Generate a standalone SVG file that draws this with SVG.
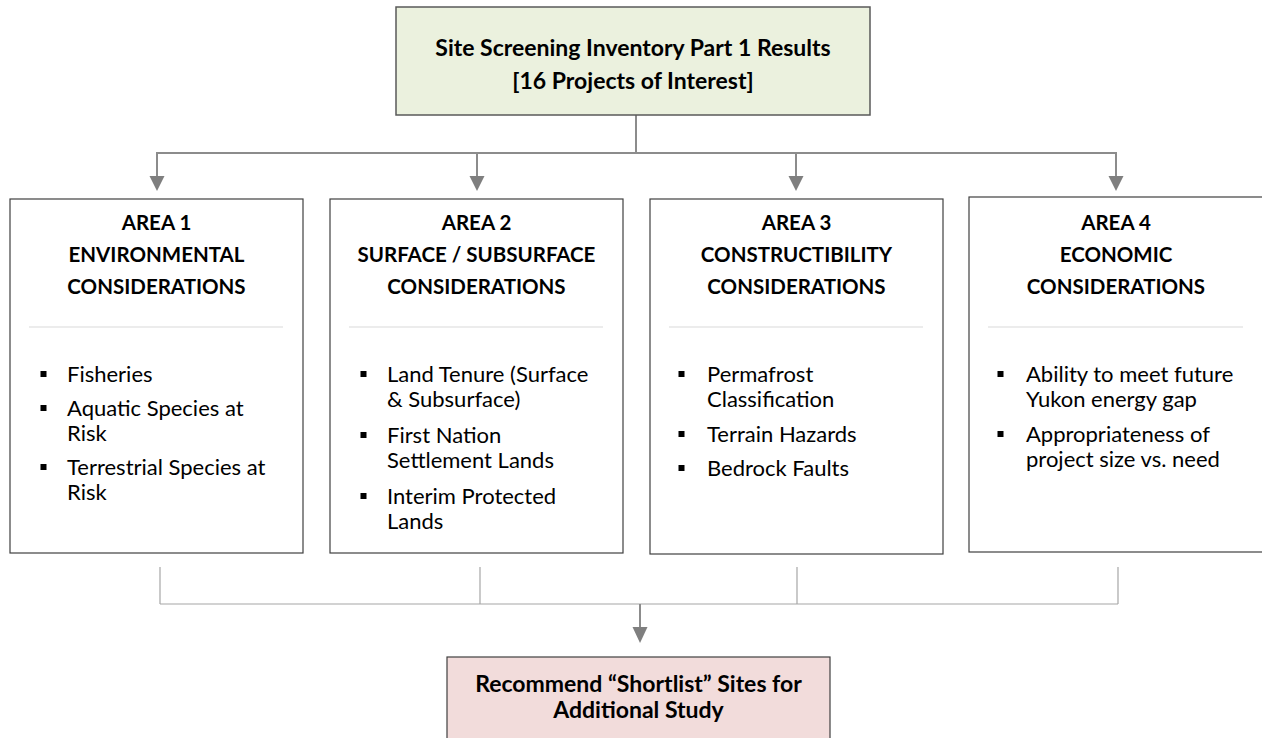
<svg xmlns="http://www.w3.org/2000/svg" width="1262" height="738" viewBox="0 0 1262 738">
<style>
  .box{fill:#ffffff;stroke:#404040;stroke-width:1.2}
  .sep{stroke:#d9d9d9;stroke-width:1}
  .h{font-family:Lato,"Liberation Sans",sans-serif;font-weight:bold;font-size:20.5px;fill:#000;text-anchor:middle}
  .big{font-size:23px}
  .t{font-family:Lato,"Liberation Sans",sans-serif;font-size:22px;fill:#000}
  .b{fill:#000}
  .con{stroke:#8c8c8c;stroke-width:2;fill:none}
  .con2{stroke:#a6a6a6;stroke-width:1.2;fill:none}
  .head{fill:#7f7f7f}
</style>
<rect width="1262" height="738" fill="#ffffff"/>

<g id="connectors">
  <line class="con" x1="636" y1="115" x2="636" y2="153"/>
  <line class="con" x1="156" y1="153" x2="1117" y2="153"/>
  <path class="con" d="M157,153 V176"/>
  <path class="head" d="M149.5,176 L164.5,176 L157,191 Z"/>
  <path class="con" d="M477,153 V176"/>
  <path class="head" d="M469.5,176 L484.5,176 L477,191 Z"/>
  <path class="con" d="M796,153 V176"/>
  <path class="head" d="M788.5,176 L803.5,176 L796,191 Z"/>
  <path class="con" d="M1116,153 V176"/>
  <path class="head" d="M1108.5,176 L1123.5,176 L1116,191 Z"/>

  <line class="con2" x1="160" y1="567" x2="160" y2="604"/>
  <line class="con2" x1="480" y1="567" x2="480" y2="604"/>
  <line class="con2" x1="797" y1="567" x2="797" y2="604"/>
  <line class="con2" x1="1118" y1="567" x2="1118" y2="604"/>
  <line class="con2" x1="160" y1="604" x2="1118" y2="604"/>
  <path class="con" d="M640,604 V628"/>
  <path class="head" d="M632.5,627 L647.5,627 L640,643 Z"/>
</g>

<g id="top">
  <rect x="396" y="7" width="474" height="108" fill="#EBF1DE" stroke="#595959" stroke-width="1.5"/>
  <text class="h big" x="633" y="56">Site Screening Inventory Part 1 Results</text>
  <text class="h big" x="633" y="89">[16 Projects of Interest]</text>
</g>

<g id="area1">
  <rect class="box" x="10" y="199" width="293" height="354"/>
  <text class="h" x="156.5" y="230">AREA 1</text>
  <text class="h" x="156.5" y="262">ENVIRONMENTAL</text>
  <text class="h" x="156.5" y="294">CONSIDERATIONS</text>
  <line class="sep" x1="29" y1="327" x2="283" y2="327"/>
  <rect class="b" x="40.5" y="371" width="6" height="6"/>
  <text class="t" x="67" y="382">Fisheries</text>
  <rect class="b" x="40.5" y="405" width="6" height="6"/>
  <text class="t" x="67" y="416">Aquatic Species at</text>
  <text class="t" x="67" y="441">Risk</text>
  <rect class="b" x="40.5" y="464" width="6" height="6"/>
  <text class="t" x="67" y="475">Terrestrial Species at</text>
  <text class="t" x="67" y="500">Risk</text>
</g>

<g id="area2">
  <rect class="box" x="330" y="199" width="293" height="354"/>
  <text class="h" x="476.5" y="230">AREA 2</text>
  <text class="h" x="476.5" y="262">SURFACE / SUBSURFACE</text>
  <text class="h" x="476.5" y="294">CONSIDERATIONS</text>
  <line class="sep" x1="349" y1="327" x2="603" y2="327"/>
  <rect class="b" x="360.5" y="371" width="6" height="6"/>
  <text class="t" x="387" y="382">Land Tenure (Surface</text>
  <text class="t" x="387" y="407">&amp; Subsurface)</text>
  <rect class="b" x="360.5" y="432" width="6" height="6"/>
  <text class="t" x="387" y="443">First Nation</text>
  <text class="t" x="387" y="468">Settlement Lands</text>
  <rect class="b" x="360.5" y="493" width="6" height="6"/>
  <text class="t" x="387" y="504">Interim Protected</text>
  <text class="t" x="387" y="529">Lands</text>
</g>

<g id="area3">
  <rect class="box" x="650" y="199" width="293" height="355"/>
  <text class="h" x="796.5" y="230">AREA 3</text>
  <text class="h" x="796.5" y="262">CONSTRUCTIBILITY</text>
  <text class="h" x="796.5" y="294">CONSIDERATIONS</text>
  <line class="sep" x1="669" y1="327" x2="923" y2="327"/>
  <rect class="b" x="678.5" y="371" width="6" height="6"/>
  <text class="t" x="707" y="382">Permafrost</text>
  <text class="t" x="707" y="407">Classification</text>
  <rect class="b" x="678.5" y="431" width="6" height="6"/>
  <text class="t" x="707" y="442">Terrain Hazards</text>
  <rect class="b" x="678.5" y="465" width="6" height="6"/>
  <text class="t" x="707" y="476">Bedrock Faults</text>
</g>

<g id="area4">
  <rect class="box" x="969" y="197" width="295" height="355"/>
  <text class="h" x="1116" y="230">AREA 4</text>
  <text class="h" x="1116" y="262">ECONOMIC</text>
  <text class="h" x="1116" y="294">CONSIDERATIONS</text>
  <line class="sep" x1="988" y1="327" x2="1243" y2="327"/>
  <rect class="b" x="997.5" y="371" width="6" height="6"/>
  <text class="t" x="1026" y="382">Ability to meet future</text>
  <text class="t" x="1026" y="407">Yukon energy gap</text>
  <rect class="b" x="997.5" y="431" width="6" height="6"/>
  <text class="t" x="1026" y="442">Appropriateness of</text>
  <text class="t" x="1026" y="467">project size vs. need</text>
</g>

<g id="bottom">
  <rect x="447" y="657" width="383" height="90" fill="#F2DCDB" stroke="#404040" stroke-width="1.2"/>
  <text class="h big" x="638.5" y="692">Recommend “Shortlist” Sites for</text>
  <text class="h big" x="638.5" y="718">Additional Study</text>
</g>
</svg>
